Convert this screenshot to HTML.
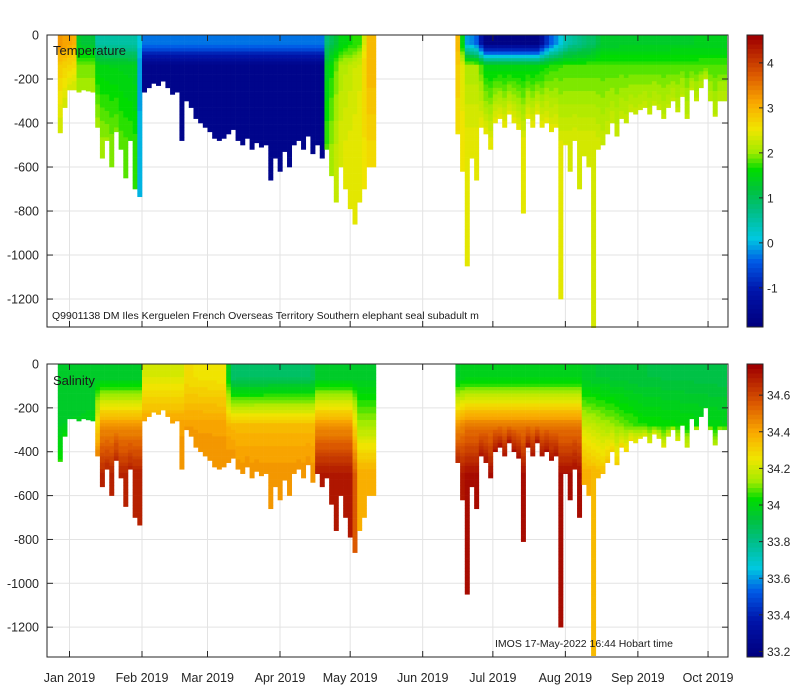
<!DOCTYPE html>
<html><head><meta charset="utf-8"><style>
body{margin:0;background:#fff;}
svg{display:block;font-family:"Liberation Sans","DejaVu Sans",sans-serif;}
</style></head><body>
<svg id="chart" width="800" height="700" viewBox="0 0 800 700" xmlns="http://www.w3.org/2000/svg">
<rect width="800" height="700" fill="#fff"/>
</svg>
<script>
// ---- data ----
const seg1Days=[-4,-2,0,2,4,6,8,10,12,14,16,18,20,22,24,26,28,30,32,34,36,38,40,42,44,46,48,50,52,54,56,58,60,62,64,66,68,70,72,74,76,78,80,82,84,86,88,90,92,94,96,98,100,102,104,106,108,110,112,114,116,118,120,122,124,126,128,130];
const seg1Depth=[445,330,250,250,260,250,255,260,420,560,480,600,440,520,650,480,700,735,260,240,220,230,210,240,270,260,480,300,330,380,400,420,440,470,480,470,450,430,480,500,470,520,490,510,500,660,560,620,530,600,500,480,520,460,540,500,560,520,640,760,600,700,790,860,760,700,600,600];
const seg2Days=[166,168,170,172,174,176,178,180,182,184,186,188,190,192,194,196,198,200,202,204,206,208,210,212,214,216,218,220,222,224,226,228,230,232,234,236,238,240,242,244,246,248,250,252,254,256,258,260,262,264,266,268,270,272,274,276,278,280];
const seg2Depth=[450,620,1050,560,660,420,450,520,400,380,420,360,400,430,810,380,420,360,420,400,440,420,1200,500,620,480,700,550,600,1330,520,500,450,400,460,380,400,350,360,340,330,360,320,340,380,330,300,350,280,380,250,300,240,200,300,370,300,300];
// temperature anchors: day, surface, mid, deep
const tAnchorDay=[-4,3,4,11,12,29,31,108,110,116,125,127,130.5,167,169,175,177,200,205,213,225,227,281];
const tSurf=[3.3,3.0,1.3,1.2,0.5,0.5,-0.3,-0.3,0.8,1.5,1.8,3.0,3.0,3.0,0.0,-0.5,-1.8,-1.8,-0.6,0.5,1.0,1.3,1.4];
const tMid=[2.8,2.6,1.9,1.9,1.5,1.4,-1.7,-1.7,1.4,2.1,2.4,3.0,3.0,2.8,2.1,2.1,1.5,1.5,1.7,1.8,1.8,1.8,1.8];
const tDeep=[2.3,2.3,2.1,2.1,2.1,1.7,-1.7,-1.7,1.8,2.4,2.5,2.7,2.7,2.6,2.5,2.5,2.5,2.5,2.5,2.4,2.4,2.3,2.2];
// salinity anchors
const sAnchorDay=[-4,11,12.5,31,32,48,49,67,68.5,105,106,121,123,130.5,163,170,218,220,245,281];
const sSurf=[33.95,33.95,33.95,33.95,34.22,34.22,34.28,34.25,33.85,33.87,33.95,33.95,33.95,33.95,33.95,33.98,33.98,33.95,33.92,33.9];
const sMid=[33.97,33.98,34.45,34.45,34.42,34.42,34.42,34.42,34.36,34.36,34.45,34.45,34.15,34.15,34.4,34.5,34.5,34.2,34.05,34.0];
const sDeep=[34.05,34.1,34.68,34.7,34.45,34.45,34.45,34.45,34.45,34.45,34.72,34.72,34.4,34.4,34.65,34.74,34.74,34.4,34.25,34.15];
const monthLabels=['Jan 2019','Feb 2019','Mar 2019','Apr 2019','May 2019','Jun 2019','Jul 2019','Aug 2019','Sep 2019','Oct 2019'];
const monthDays=[0,31,59,90,120,151,181,212,243,273];
const depthTicks=[0,-200,-400,-600,-800,-1000,-1200];
const tTicks=[-1,0,1,2,3,4];
const sTicks=[33.2,33.4,33.6,33.8,34,34.2,34.4,34.6];

// ---- layout ----
const NS='http://www.w3.org/2000/svg';
const svg=document.getElementById('chart');
const AX0=47,AX1=728;
const panels=[{top:35,bot:327,maxD:1327,cmin:-1.87,cmax:4.62,name:'temperature',z0:40,z1:140},{top:364,bot:657,maxD:1336,cmin:33.17,cmax:34.77,name:'salinity',z0:60,z1:280}];
const xOf=d=>69.5+d*2.339;
function el(tag,attrs,parent){const e=document.createElementNS(NS,tag);for(const k in attrs)e.setAttribute(k,attrs[k]);(parent||svg).appendChild(e);return e;}
const stops=[[0,[0,0,128]],[0.12,[0,20,170]],[0.22,[0,90,230]],[0.3,[0,200,225]],[0.4,[0,190,130]],[0.47,[0,195,60]],[0.54,[0,220,0]],[0.6,[160,235,0]],[0.68,[240,230,0]],[0.77,[250,170,0]],[0.87,[220,90,0]],[1,[160,0,0]]];
function cmap(t){t=Math.max(0,Math.min(1,t));t=Math.round(t*63)/63;for(let i=1;i<stops.length;i++){if(t<=stops[i][0]){const a=stops[i-1],b=stops[i];const f=(t-a[0])/(b[0]-a[0]);const c=a[1].map((v,j)=>Math.round(v+(b[1][j]-v)*f));return 'rgb('+c.join(',')+')';}}return 'rgb(160,0,0)';}
function interp(days,arr,d){if(d<=days[0])return arr[0];for(let i=1;i<days.length;i++){if(d<=days[i]){const f=(d-days[i-1])/(days[i]-days[i-1]);return arr[i-1]+(arr[i]-arr[i-1])*f;}}return arr[arr.length-1];}
function valAt(z,maxDepth,v0,v1,v2,z0,z1){if(z<z0)return v0;if(z<z1)return v0+(v1-v0)*(z-z0)/(z1-z0);if(maxDepth<=z1)return v1;return v1+(v2-v1)*Math.min(1,(z-z1)/(Math.min(maxDepth,500)-z1));}

panels.forEach((p,pi)=>{
  const yOf=z=>p.top+z*(p.bot-p.top)/p.maxD;
  const g=el('g',{});
  
  
  monthDays.forEach(d=>{el('line',{x1:xOf(d),x2:xOf(d),y1:p.top,y2:p.bot,stroke:'#e3e3e3','stroke-width':1},g);});
  depthTicks.forEach(t=>{el('line',{x1:AX0,x2:AX1,y1:yOf(-t),y2:yOf(-t),stroke:'#e3e3e3','stroke-width':1},g);});
  const marks=el('g',{},g);
  
  
  [[seg1Days,seg1Depth],[seg2Days,seg2Depth]].forEach(([days,depths])=>{
    days.forEach((d,i)=>{
      const x0=xOf(d-1),x1=xOf(d+1);
      const md=depths[i];
      let a,b,c;
      if(pi===0){a=interp(tAnchorDay,tSurf,d);b=interp(tAnchorDay,tMid,d);c=interp(tAnchorDay,tDeep,d);}
      else{a=interp(sAnchorDay,sSurf,d);b=interp(sAnchorDay,sMid,d);c=interp(sAnchorDay,sDeep,d);}
      const step=15;
      for(let z=0;z<md;z+=step){
        const zz=Math.min(md,z+step);
        const v=valAt(z+step/2,md,a,b,c,p.z0,p.z1);
        el('rect',{x:x0.toFixed(2),y:yOf(z).toFixed(2),width:(x1-x0+0.3).toFixed(2),height:(yOf(zz)-yOf(z)+0.3).toFixed(2),fill:cmap((v-p.cmin)/(p.cmax-p.cmin))},marks);
      }
    });
  });
  el('rect',{x:AX0,y:p.top,width:AX1-AX0,height:p.bot-p.top,fill:'none',stroke:'#262626','stroke-width':1},g);
  monthDays.forEach((d,i)=>{
    el('line',{x1:xOf(d),x2:xOf(d),y1:p.bot,y2:p.bot-6,stroke:'#262626'},g);
    el('line',{x1:xOf(d),x2:xOf(d),y1:p.top,y2:p.top+6,stroke:'#262626'},g);
    if(pi===1){const t=el('text',{x:xOf(d),y:682,'font-size':12.5,fill:'#262626','text-anchor':'middle'},g);t.textContent=monthLabels[i];
      }
  });
  depthTicks.forEach(t=>{
    const y=yOf(-t);
    el('line',{x1:AX0,x2:AX0+6,y1:y,y2:y,stroke:'#262626'},g);
    el('line',{x1:AX1,x2:AX1-6,y1:y,y2:y,stroke:'#262626'},g);
    const tx=el('text',{x:39,y:y+4.5,'font-size':12.5,fill:'#262626','text-anchor':'end'},g);tx.textContent=t;
    
  });
  const cb=el('g',{},g);
  
  
  const n=64,h=(p.bot-p.top)/n;
  for(let i=0;i<n;i++){el('rect',{x:747,y:(p.bot-(i+1)*h).toFixed(2),width:16,height:(h+0.4).toFixed(2),fill:cmap((i+0.5)/n)},cb);}
  el('rect',{x:747,y:p.top,width:16,height:p.bot-p.top,fill:'none',stroke:'#262626'},cb);
  const ticks=pi===0?tTicks:sTicks;
  ticks.forEach(v=>{const y=p.bot-(v-p.cmin)/(p.cmax-p.cmin)*(p.bot-p.top);
    el('line',{x1:759,x2:763,y1:y,y2:y,stroke:'#262626'},cb);
    const tx=el('text',{x:767,y:y+4.5,'font-size':12,fill:'#262626'},cb);tx.textContent=pi===0?v:v.toFixed(1).replace('34.0','34');
    });
});
function label(txt,x,y,size,name){const t=el('text',{x:x,y:y,'font-size':size,fill:'#1a1a1a'});t.textContent=txt;
  }
label('Temperature',53,55,13,'temperature-title');
label('Salinity',53,385,13,'salinity-title');
label('Q9901138 DM Iles Kerguelen French Overseas Territory Southern elephant seal subadult m',52,319,10.5,'deployment-info');
label('IMOS 17-May-2022 16:44 Hobart time',495,647,10.5,'imos-timestamp');
</script>
</body></html>
